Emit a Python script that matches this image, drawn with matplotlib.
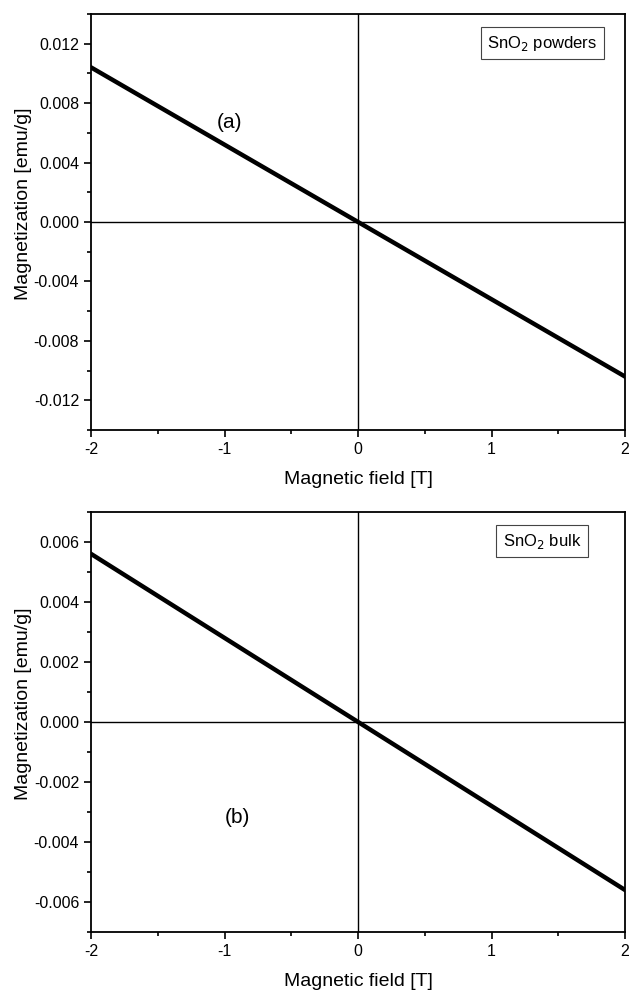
import numpy as np
import matplotlib
matplotlib.use("Agg")
import matplotlib.pyplot as plt
from matplotlib.ticker import MultipleLocator, FormatStrFormatter

plt.rcParams['font.family'] = ['Liberation Sans', 'DejaVu Sans']
plt.rcParams['axes.unicode_minus'] = False

# data
field = [-2, -1, 0, 1, 2]
m_powders = [0.0104, 0.0052, 0.0, -0.0052, -0.0104]
m_bulk = [0.0056, 0.0028, 0.0, -0.0028, -0.0056]

fig = plt.figure(figsize=(6.32, 9.91), dpi=100)
ax1 = fig.add_axes([0.144, 0.566, 0.845, 0.420])
ax2 = fig.add_axes([0.144, 0.0595, 0.845, 0.424])

panels = [
    (ax1, m_powders, 0.014, 0.004, 'SnO$_2$ powders', '(a)', (-0.96, 0.0067)),
    (ax2, m_bulk, 0.007, 0.002, 'SnO$_2$ bulk', '(b)', (-0.9, -0.0032)),
]

for ax, m, lim, step, name, tag, tagpos in panels:
    ax.axhline(0, color='black', lw=1.0, zorder=1)
    ax.axvline(0, color='black', lw=1.0, zorder=1)
    ax.plot(field, m, color='black', lw=3.2, zorder=3)
    ax.set_xlim(-2, 2)
    ax.set_ylim(-lim, lim)
    ax.xaxis.set_major_locator(MultipleLocator(1))
    ax.xaxis.set_minor_locator(MultipleLocator(0.5))
    ax.yaxis.set_major_locator(MultipleLocator(step))
    ax.yaxis.set_minor_locator(MultipleLocator(step / 2))
    ax.yaxis.set_major_formatter(FormatStrFormatter('%.3f'))
    ax.xaxis.set_major_formatter(FormatStrFormatter('%d'))
    ax.tick_params(which='both', direction='out', top=False, right=False,
                   width=1.2, labelsize=11.5)
    ax.tick_params(which='major', length=5)
    ax.tick_params(which='minor', length=3)
    for s in ax.spines.values():
        s.set_linewidth(1.3)
    ax.set_xlabel('Magnetic field [T]', fontsize=14, labelpad=10)
    ax.set_ylabel('Magnetization [emu/g]', fontsize=14)
    ax.yaxis.set_label_coords(-0.11, 0.543)
    ax.text(0.845, 0.93, name, transform=ax.transAxes, ha='center', va='center',
            fontsize=12,
            bbox=dict(boxstyle='square,pad=0.4', fc='white', ec='#444444', lw=0.8))
    ax.text(tagpos[0], tagpos[1], tag, ha='center', va='center', fontsize=15)

fig.savefig('out.png', dpi=100)
